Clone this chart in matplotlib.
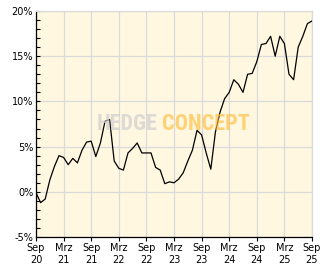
import matplotlib
matplotlib.use("Agg")
import matplotlib.pyplot as plt
import numpy as np

# Monthly performance (%) from Sep 2020 to Sep 2025
values = [-0.1, -1.2, -0.8, 1.3, 2.8, 4.0, 3.8, 3.0, 3.7, 3.2,
          4.6, 5.5, 5.6, 3.9, 5.4, 7.8, 8.0, 3.4, 2.6, 2.4,
          4.3, 4.8, 5.4, 4.3, 4.3, 4.3, 2.7, 2.4, 0.9, 1.1,
          1.0, 1.4, 2.1, 3.4, 4.6, 6.8, 6.3, 4.3, 2.5, 6.6,
          8.8, 10.3, 11.0, 12.4, 11.9, 11.0, 13.0, 13.1, 14.4, 16.3,
          16.4, 17.2, 15.0, 17.2, 16.4, 13.0, 12.4, 16.0, 17.2, 18.6, 18.9]
x_tick_labels = ["Sep\n20", "Mrz\n21", "Sep\n21", "Mrz\n22", "Sep\n22", "Mrz\n23",
                 "Sep\n23", "Mrz\n24", "Sep\n24", "Mrz\n25", "Sep\n25"]
y_ticks = [-5, 0, 5, 10, 15, 20]
y_tick_labels = ["-5%", "0%", "5%", "10%", "15%", "20%"]

W, H = 332, 269
fig = plt.figure(figsize=(W / 100, H / 100), dpi=100)
fig.patch.set_facecolor("white")
ax = fig.add_axes([36 / W, (H - 237) / H, (312 - 36) / W, (237 - 11) / H])
ax.set_facecolor("#FFF7E0")

months = np.arange(len(values))
ax.plot(months, values, color="black", lw=0.9, zorder=3)

ax.set_xlim(0, 60)
ax.set_ylim(-5, 20)
ax.set_xticks(np.arange(0, 61, 6))
ax.set_xticklabels(x_tick_labels, fontsize=7, linespacing=1.25)
ax.set_yticks(y_ticks)
ax.set_yticklabels(y_tick_labels, fontsize=7)
ax.set_yticks(np.arange(-5, 21, 1), minor=True)

ax.grid(True, which="major", color="#DADADA", lw=0.9, zorder=1)
ax.tick_params(axis="y", which="both", direction="in", length=3, width=0.8, pad=2, colors="black")
ax.tick_params(axis="x", which="major", direction="out", length=3, width=0.8, pad=1.5, colors="black")

for s in ("left", "bottom"):
    ax.spines[s].set_color("black")
    ax.spines[s].set_linewidth(0.9)
for s in ("top", "right"):
    ax.spines[s].set_color("#DADADA")
    ax.spines[s].set_linewidth(0.9)

# Watermark
wm_family = ["Roboto Condensed", "Roboto", "DejaVu Sans"]
fig.text(158 / W, 1 - 124 / H, "HEDGE", color="#CFCFCF", alpha=0.7, fontsize=16,
         fontweight="bold", family=wm_family, ha="right", va="center", zorder=10)
fig.text(162 / W, 1 - 124 / H, "CONCEPT", color="#FFBE3C", alpha=0.65, fontsize=16,
         fontweight="bold", family=wm_family, ha="left", va="center", zorder=10)

fig.savefig("out.png", dpi=100)
